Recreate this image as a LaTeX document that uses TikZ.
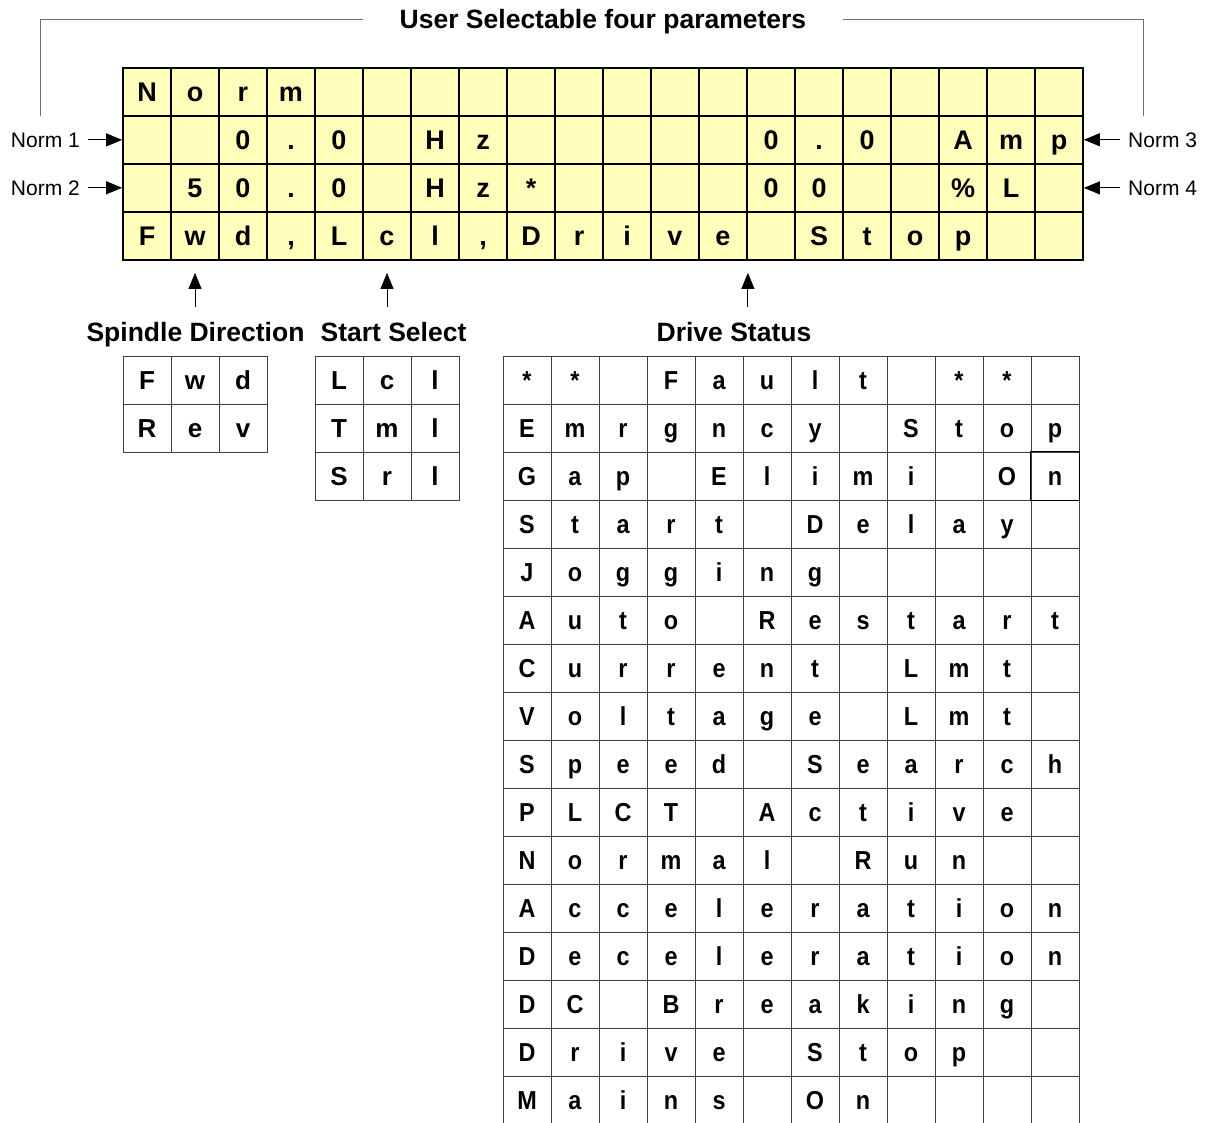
\documentclass[tikz,border=0pt]{standalone}
\usepackage{fontspec}
\setmainfont{Liberation Sans}
\newfontfamily\narrowsans[FakeStretch=0.9]{Liberation Sans}
\usepackage{tikz}
\usetikzlibrary{arrows.meta,calc}
\definecolor{LcdYellow}{HTML}{FFFFBB}
\definecolor{BracketGrey}{HTML}{707070}
\definecolor{TableGrey}{HTML}{404040}

\begin{document}
\begin{tikzpicture}[x=1pt,y=-1pt,
    lcdcell/.style={draw=black,line width=1.8pt,fill=LcdYellow,minimum width=48pt,minimum height=48pt,inner sep=0pt},
    lcdtext/.style={inner sep=0pt,text height=19pt,text depth=0pt,font=\fontsize{27}{30}\selectfont\bfseries},
    selcell/.style={draw=TableGrey,line width=1pt,minimum width=48pt,minimum height=48pt,inner sep=0pt},
    seltext/.style={inner sep=0pt,text height=18.5pt,text depth=0pt,font=\fontsize{26}{30}\selectfont\bfseries},
    stattext/.style={inner sep=0pt,text height=18.5pt,text depth=0pt,font=\narrowsans\fontsize{26}{29}\selectfont\bfseries},
    heading/.style={inner sep=0pt,anchor=base,font=\fontsize{26.5}{30}\selectfont\bfseries},
    normlabel/.style={inner sep=0pt,font=\fontsize{21}{24}\selectfont},
    pointer/.style={line width=1pt,-{Triangle[length=16pt,width=13pt]}},
    bracket/.style={draw=BracketGrey,line width=1pt}]
  \useasboundingbox (0,0) rectangle (1205,1122);

  \foreach \r in {1,...,4}
    \foreach \c in {1,...,20}
      \node[lcdcell] (lcd-\r-\c) at ({123+48*(\c-0.5)},{68+48*(\r-0.5)}) {};
  \foreach \line [count=\r] in {{N,o,r,m},
      {{},{},0,{.},0,{},H,z,{},{},{},{},{},0,{.},0,{},A,m,p},
      {{},5,0,{.},0,{},H,z,*,{},{},{},{},0,0,{},{},\%,L},
      {F,w,d,{,},L,c,l,{,},D,r,i,v,e,{},S,t,o,p}}
    \foreach \ch [count=\c] in \line
      \node[lcdtext] (lcdtxt-\r-\c) at (lcd-\r-\c) {\ch};

  \node[heading] (title) at (603,28) {User Selectable four parameters};
  \coordinate (brL) at (40,116);
  \coordinate (brR) at (1143,116);
  \draw[bracket] (brL) |- ([xshift=-37pt,yshift=2pt]title.west);
  \draw[bracket] (brR) |- ([xshift=37pt,yshift=2pt]title.east);

  \node[normlabel,anchor=base east] (norm1) at (80,147) {Norm 1};
  \node[normlabel,anchor=base east] (norm2) at (80,195) {Norm 2};
  \node[normlabel,anchor=base west] (norm3) at (1128,147) {Norm 3};
  \node[normlabel,anchor=base west] (norm4) at (1128,195) {Norm 4};
  \draw[pointer,shorten <=8pt] (norm1.east) -- (norm1.east -| lcd-2-1.west);
  \draw[pointer,shorten <=8pt] (norm2.east) -- (norm2.east -| lcd-3-1.west);
  \draw[pointer,shorten <=8pt] (norm3.west) -- (norm3.west -| lcd-2-20.east);
  \draw[pointer,shorten <=8pt] (norm4.west) -- (norm4.west -| lcd-3-20.east);

  \node[heading] (spindle) at (195.5,341) {Spindle Direction};
  \node[heading] (start) at (393.5,341) {Start Select};
  \node[heading] (status) at (734,341) {Drive Status};
  \draw[pointer,shorten <=15pt,shorten >=12pt] (lcd-4-2.south |- spindle.north) -- (lcd-4-2.south);
  \draw[pointer,shorten <=15pt,shorten >=12pt] (lcd-4-6.south |- start.north) -- (lcd-4-6.south);
  \draw[pointer,shorten <=15pt,shorten >=12pt] (lcd-4-13.south east |- status.north) -- (lcd-4-13.south east);

  \foreach \line [count=\r] in {{F,w,d},{R,e,v}}
    \foreach \ch [count=\c] in \line
      \node[selcell,seltext] (dir-\r-\c) at ({123+48*(\c-0.5)},{356+48*(\r-0.5)}) {\ch};
  \foreach \line [count=\r] in {{L,c,l},{T,m,l},{S,r,l}}
    \foreach \ch [count=\c] in \line
      \node[selcell,seltext] (sel-\r-\c) at ({315+48*(\c-0.5)},{356+48*(\r-0.5)}) {\ch};

  \foreach \r in {1,...,16}
    \foreach \c in {1,...,12}
      \node[selcell] (stat-\r-\c) at ({503+48*(\c-0.5)},{356+48*(\r-0.5)}) {};
  \draw[line width=1.3pt] (stat-3-12.north west) rectangle (stat-3-12.south east);
  \foreach \line [count=\r] in {{*,*,{},F,a,u,l,t,{},*,*},
      {E,m,r,g,n,c,y,{},S,t,o,p},
      {G,a,p,{},E,l,i,m,i,{},O,n},
      {S,t,a,r,t,{},D,e,l,a,y},
      {J,o,g,g,i,n,g},
      {A,u,t,o,{},R,e,s,t,a,r,t},
      {C,u,r,r,e,n,t,{},L,m,t},
      {V,o,l,t,a,g,e,{},L,m,t},
      {S,p,e,e,d,{},S,e,a,r,c,h},
      {P,L,C,T,{},A,c,t,i,v,e},
      {N,o,r,m,a,l,{},R,u,n},
      {A,c,c,e,l,e,r,a,t,i,o,n},
      {D,e,c,e,l,e,r,a,t,i,o,n},
      {D,C,{},B,r,e,a,k,i,n,g},
      {D,r,i,v,e,{},S,t,o,p},
      {M,a,i,n,s,{},O,n}}
    \foreach \ch [count=\c] in \line
      \node[stattext] (stattxt-\r-\c) at (stat-\r-\c) {\ch};
\end{tikzpicture}
\end{document}
